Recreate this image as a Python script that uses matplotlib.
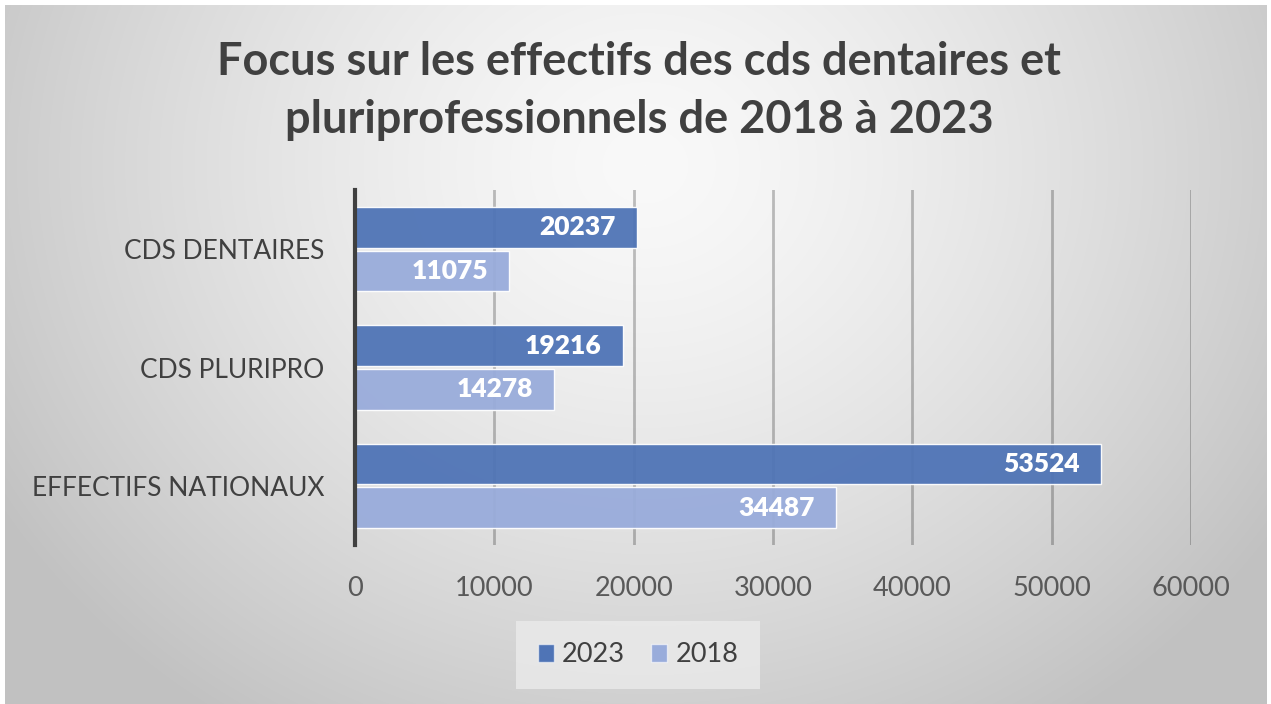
import numpy as np
import matplotlib
matplotlib.use("Agg")
import matplotlib.pyplot as plt
from matplotlib.patches import Patch

categories = ["EFFECTIFS NATIONAUX", "CDS PLURIPRO", "CDS DENTAIRES"]
values_2023 = [53524, 19216, 20237]
values_2018 = [34487, 14278, 11075]
series_labels = ["2023", "2018"]
xticks = [0, 10000, 20000, 30000, 40000, 50000, 60000]
title = "Focus sur les effectifs des cds dentaires et\npluriprofessionnels de 2018 à 2023"

W, H = 1271, 704
fig = plt.figure(figsize=(W / 100, H / 100), dpi=100)
fig.patch.set_facecolor("white")

# background gradient
bg = fig.add_axes([5 / W, 0, (W - 9) / W, (H - 5) / H], zorder=-10)
bw, bh = W - 9, H - 5
yy, xx = np.mgrid[0:bh, 0:bw]
cx, cy, rx, ry = 640, 160, 700, 620
t = np.sqrt(((xx - cx) / rx) ** 2 + ((yy - cy) / ry) ** 2)
t = np.clip(t, 0, 1.15)
val = (249 - 50 * t ** 1.4) / 255.0
val = np.clip(val, 0.76, 1)
img = np.dstack([val, val, val])
bg.imshow(img, aspect="auto", interpolation="bilinear")
bg.axis("off")

fam = ["Lato", "DejaVu Sans"]
ax = fig.add_axes([355 / W, 1 - 545 / H, (1191 - 355) / W, (545 - 190) / H])
ax.set_facecolor("none")

y = np.arange(len(categories))
h = 0.345
off = 0.185
c23 = "#4f74b6"
c18 = "#99acdb"
b23 = ax.barh(y + off, values_2023, height=h, color=c23, alpha=0.95,
              edgecolor=(1, 1, 1, 0.5), linewidth=1, zorder=2)
b18 = ax.barh(y - off, values_2018, height=h, color=c18, alpha=0.95,
              edgecolor=(1, 1, 1, 0.5), linewidth=1, zorder=2)

for bars in (b23, b18):
    for r in bars:
        ax.text(r.get_width() - 1500, r.get_y() + r.get_height() / 2,
                f"{int(r.get_width())}", ha="right", va="center",
                color="white", fontsize=19, fontweight="heavy",
                family=fam, zorder=4)

ax.set_xlim(0, 60000)
ax.set_ylim(-0.5, 2.5)
ax.set_xticks(xticks)
ax.set_xticklabels([str(v) for v in xticks], family=fam, fontsize=19.5,
                   color="#595959")
ax.set_yticks(y)
ax.set_yticklabels(categories, family=fam, fontsize=19, color="#404040")
ax.tick_params(axis="x", length=0, pad=22)
ax.tick_params(axis="y", length=0, pad=22)
ax.grid(axis="x", color="#000000", alpha=0.24, linewidth=2, zorder=1)
ax.set_axisbelow(True)
for s in ["top", "right", "bottom"]:
    ax.spines[s].set_visible(False)
ax.spines["left"].set_color("#404040")
ax.spines["left"].set_linewidth(3)
ax.spines["left"].set_zorder(5)

fig.text(0.503, 1 - 91 / H, title, ha="center", va="center",
         fontsize=32.5, fontweight="bold", color="#404040", family=fam,
         linespacing=1.45)

handles = [Patch(facecolor=c23, edgecolor=(1, 1, 1, 0.6)),
           Patch(facecolor=c18, edgecolor=(1, 1, 1, 0.6))]
leg = fig.legend(handles, series_labels, loc="center",
                 bbox_to_anchor=(638 / W, 1 - 655 / H), ncol=2,
                 frameon=True, prop={"family": fam, "size": 19.5},
                 handlelength=0.6, handleheight=0.6, handletextpad=0.3,
                 columnspacing=0.95, borderpad=0.8, fancybox=False)
leg.get_frame().set_facecolor("#ebebeb")
leg.get_frame().set_edgecolor("none")
leg.get_frame().set_alpha(0.8)
for txt in leg.get_texts():
    txt.set_color("#404040")

fig.savefig("out.png", dpi=100)
